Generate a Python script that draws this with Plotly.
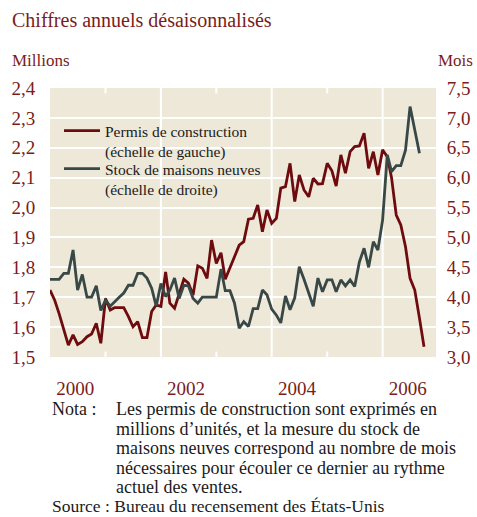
import pandas as pd
import plotly.graph_objects as go

# ---------------- data ----------------
permits_dates = pd.date_range("2000-01-01", periods=82, freq="MS")
permits = [
    1.724, 1.69, 1.645, 1.59, 1.54, 1.574, 1.542, 1.551, 1.568, 1.577, 1.613, 1.546,
    1.696, 1.657, 1.665, 1.665, 1.665, 1.635, 1.601, 1.618, 1.565, 1.565, 1.652, 1.674,
    1.669, 1.785, 1.68, 1.663, 1.713, 1.76, 1.747, 1.707, 1.805, 1.797, 1.763, 1.891,
    1.813, 1.849, 1.76, 1.797, 1.836, 1.874, 1.886, 1.961, 1.964, 2.009, 1.919, 1.992,
    1.947, 1.964, 2.065, 2.07, 2.148, 2.02, 2.109, 2.059, 2.036, 2.098, 2.079, 2.08,
    2.148, 2.123, 2.072, 2.176, 2.115, 2.187, 2.204, 2.206, 2.249, 2.131, 2.187, 2.109,
    2.193, 2.170, 2.100, 1.975, 1.942, 1.869, 1.763, 1.724, 1.63, 1.534,
]

supply_dates = pd.date_range("2000-01-01", periods=81, freq="MS")
supply = [
    4.30, 4.30, 4.30, 4.40, 4.40, 4.79, 4.12, 4.38, 4.00, 4.00, 4.19, 3.78,
    3.95, 3.85, 3.93, 4.00, 4.07, 4.20, 4.20, 4.40, 4.40, 4.32, 4.15, 3.85,
    4.23, 4.01, 4.12, 4.32, 3.98, 4.20, 4.19, 3.98, 3.90, 4.00, 4.00, 4.00,
    4.00, 4.47, 4.11, 4.11, 3.90, 3.48, 3.59, 3.51, 3.81, 3.81, 4.12, 4.04,
    3.80, 3.70, 3.57, 4.02, 3.79, 3.99, 4.51, 4.30, 4.08, 3.85, 4.32, 4.09,
    4.29, 4.29, 4.09, 4.29, 4.19, 4.29, 4.18, 4.59, 4.82, 4.50, 4.93, 4.79,
    5.29, 6.38, 6.10, 6.20, 6.20, 6.46, 7.19, 6.80, 6.41,
]

year_labels = ["2000", "2002", "2004", "2006"]
label_positions = ["2000-06-16", "2002-06-16", "2004-06-16", "2006-06-16"]
short_tick_years = ["2001-01-01", "2003-01-01", "2005-01-01"]
full_grid_years = ["2002-01-01", "2004-01-01", "2006-01-01"]
left_ticks = [1.5, 1.6, 1.7, 1.8, 1.9, 2.0, 2.1, 2.2, 2.3, 2.4]
right_ticks = [3.0, 3.5, 4.0, 4.5, 5.0, 5.5, 6.0, 6.5, 7.0, 7.5]

note_lines = [
    "Les permis de construction sont exprimés en",
    "millions d’unités, et la mesure du stock de",
    "maisons neuves correspond au nombre de mois",
    "nécessaires pour écouler ce dernier au rythme",
    "actuel des ventes.",
]

# ---------------- style ----------------
RED = "#6d0b0e"
GREY = "#384846"
TXT_RED = "#7a1c1c"
INK = "#1a1a1a"
BG = "#eee8d8"
FONT = "Liberation Serif"
PLOT_TOP, PLOT_BOTTOM, PLOT_LEFT, PLOT_W = 88, 357, 50, 386


def py(ypx):
    return (PLOT_BOTTOM - ypx) / (PLOT_BOTTOM - PLOT_TOP)


def px(xpx):
    return (xpx - PLOT_LEFT) / PLOT_W


fig = go.Figure()
fig.add_trace(go.Scatter(
    x=permits_dates, y=permits, mode="lines",
    name="Permis de construction<br>(échelle de gauche)",
    line=dict(color=RED, width=2.8), yaxis="y", legend="legend"))
fig.add_trace(go.Scatter(
    x=supply_dates, y=supply, mode="lines",
    name="Stock de maisons neuves<br>(échelle de droite)",
    line=dict(color=GREY, width=2.8), yaxis="y2", legend="legend2"))

shapes = [dict(type="line", xref="x", yref="paper", x0=d, x1=d, y0=0, y1=1,
               line=dict(color="white", width=2), layer="below")
          for d in full_grid_years]
for d in short_tick_years:
    shapes.append(dict(type="line", xref="x", yref="paper", x0=d, x1=d,
                       y0=0, y1=0.02, line=dict(color="white", width=2),
                       layer="below"))
    shapes.append(dict(type="line", xref="x", yref="paper", x0=d, x1=d,
                       y0=0.98, y1=1, line=dict(color="white", width=2),
                       layer="below"))

legend_style = dict(xanchor="left", yanchor="top", bgcolor="rgba(0,0,0,0)",
                    valign="top", font=dict(family=FONT, size=15.5, color=INK),
                    tracegroupgap=0, itemwidth=36)

fig.update_layout(
    width=477, height=517,
    margin=dict(l=50, r=41, t=88, b=160),
    paper_bgcolor="white", plot_bgcolor=BG,
    separators=", ",
    font=dict(family=FONT, color=TXT_RED),
    showlegend=True,
    legend=dict(x=px(59), y=py(114), **legend_style),
    legend2=dict(x=px(59), y=py(152), **legend_style),
    xaxis=dict(
        range=["2000-01-01", "2006-12-19"],
        tickvals=label_positions, ticktext=year_labels,
        showgrid=False, zeroline=False, showline=False, automargin=False,
        ticks="outside", ticklen=14, tickcolor="rgba(0,0,0,0)",
        tickfont=dict(size=19, color=TXT_RED),
    ),
    yaxis=dict(
        range=[1.5, 2.4], tickvals=left_ticks, tickformat=".1f",
        showgrid=True, gridcolor="white", gridwidth=2, zeroline=False,
        automargin=False,
        ticks="outside", ticklen=10, tickcolor="rgba(0,0,0,0)",
        tickfont=dict(size=19, color=TXT_RED),
    ),
    yaxis2=dict(
        range=[3.0, 7.5], tickvals=right_ticks, tickformat=".1f",
        overlaying="y", side="right", showgrid=False, zeroline=False,
        automargin=False,
        ticks="outside", ticklen=6, tickcolor="rgba(0,0,0,0)",
        tickfont=dict(size=19, color=TXT_RED),
    ),
    shapes=shapes,
)

ann = [
    dict(text="Chiffres annuels désaisonnalisés", x=px(10), y=py(20),
         xanchor="left", yanchor="middle", font=dict(size=20, color=TXT_RED)),
    dict(text="Millions", x=px(10), y=py(60), xanchor="left", yanchor="middle",
         font=dict(size=17, color=TXT_RED)),
    dict(text="Mois", x=px(475), y=py(60), xanchor="right", yanchor="middle",
         font=dict(size=17, color=TXT_RED)),
    dict(text="Nota :", x=px(50), y=py(409), xanchor="left", yanchor="middle",
         font=dict(size=18, color=INK)),
    dict(text="Source : Bureau du recensement des États-Unis", x=px(50),
         y=py(506), xanchor="left", yanchor="middle",
         font=dict(size=17.5, color=INK)),
]
for i, line in enumerate(note_lines):
    ann.append(dict(text=line, x=px(114), y=py(409 + 19.6 * i),
                    xanchor="left", yanchor="middle",
                    font=dict(size=18, color=INK)))
for a in ann:
    a.update(xref="paper", yref="paper", showarrow=False)
fig.update_layout(annotations=ann)

fig.write_html("out.html",
               config={"displayModeBar": False},
               post_script="document.body.style.margin='0';"
                           "document.body.style.padding='0';")
